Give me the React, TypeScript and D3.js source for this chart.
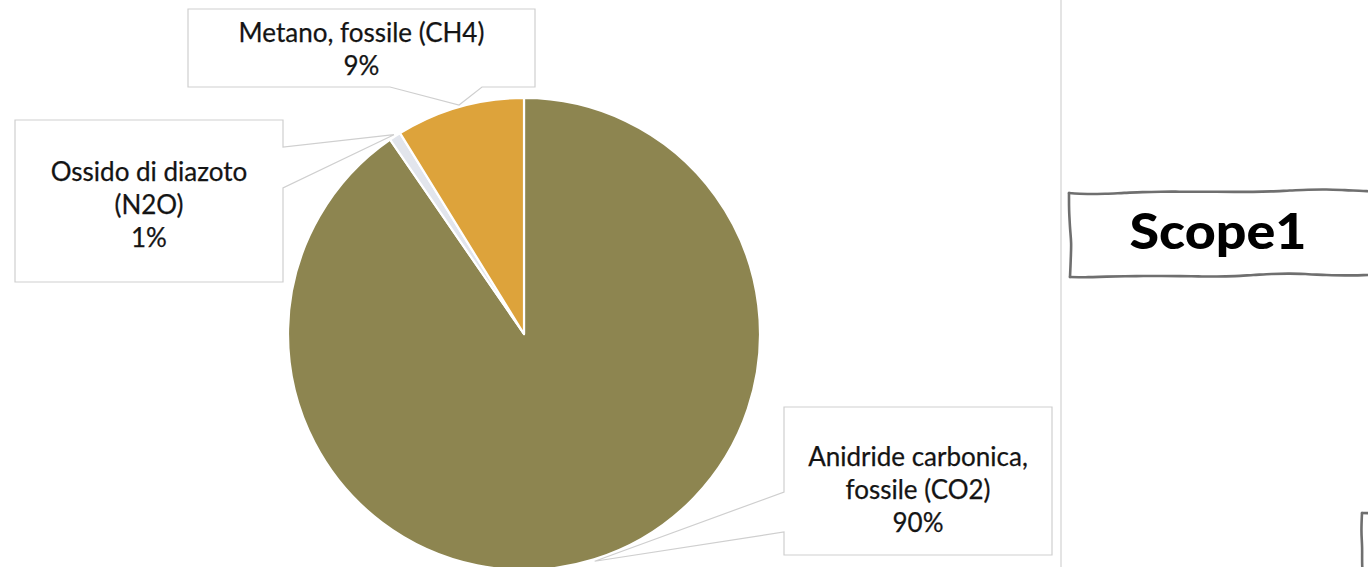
import React from 'react';
import * as d3 from 'd3';

// ---- data ----
const categories = ['CO2', 'N2O', 'CH4'];
const values = [90.4, 0.8, 8.8];
const labelLines = [
  ['Anidride carbonica,', 'fossile (CO2)'],
  ['Ossido di diazoto', '(N2O)'],
  ['Metano, fossile (CH4)'],
];
const sliceColors = ['#8D8550', '#E2E5EC', '#DDA33B'];
const titleText = 'Scope1';

// ---- layout (not data) ----
const W = 1368;
const H = 567;
const CX = 524;
const CY = 334;
const R = 236;
const callouts = [
  { x: 784, y: 407, w: 268, h: 148, side: 'left', g1: 492, g2: 532, ty: 489 },
  { x: 15, y: 120, w: 268, h: 162, side: 'right', g1: 147, g2: 188, ty: 204 },
  { x: 188, y: 9, w: 347, h: 78, side: 'bottom', g1: 390, g2: 482, ty: 49 },
];
const FONT = 'Lato, "Open Sans", sans-serif';
const LINE_H = 33;
const FS = 26;

function calloutPath(c: any, ax: number, ay: number) {
  const { x, y, w, h, g1, g2 } = c;
  if (c.side === 'bottom')
    return `M${x},${y}L${x + w},${y}L${x + w},${y + h}L${g2},${y + h}L${ax},${ay}L${g1},${y + h}L${x},${y + h}Z`;
  if (c.side === 'right')
    return `M${x},${y}L${x + w},${y}L${x + w},${g1}L${ax},${ay}L${x + w},${g2}L${x + w},${y + h}L${x},${y + h}Z`;
  return `M${x},${y}L${x + w},${y}L${x + w},${y + h}L${x},${y + h}L${x},${g2}L${ax},${ay}L${x},${g1}Z`;
}

function wobblyPoints(x1: number, y1: number, x2: number, y2: number, amp: number, phase: number) {
  const len = Math.hypot(x2 - x1, y2 - y1);
  const n = Math.max(2, Math.round(len / 18));
  const nx = -(y2 - y1) / len;
  const ny = (x2 - x1) / len;
  const pts: [number, number][] = [];
  for (let i = 0; i <= n; i++) {
    const t = i / n;
    const off = (i === 0 || i === n) ? 0 : amp * Math.sin(t * len / 23 + phase) * (0.6 + 0.4 * Math.cos(t * 7 + phase));
    pts.push([x1 + (x2 - x1) * t + nx * off, y1 + (y2 - y1) * t + ny * off]);
  }
  return pts;
}

const lineGen = d3.line().curve(d3.curveCatmullRom.alpha(0.5));

export default function App() {
  const pie = d3.pie<number>().sort(null).value((d) => d).startAngle(0).endAngle(2 * Math.PI);
  const arcs = pie(values);
  const arc = d3.arc<d3.PieArcDatum<number>>().innerRadius(0).outerRadius(R);
  const anchorArc = d3.arc<d3.PieArcDatum<number>>().innerRadius(R + 2).outerRadius(R + 2);
  const pct = (v: number) => d3.format('.0f')(v) + '%';

  // Scope box (hand drawn)
  const sx1 = 1069, sy1 = 193, sx2 = 1400, sy2 = 277;
  const scopeEdges = [
    wobblyPoints(sx1, sy1, sx2, sy1 - 3, 1.4, 0.3),
    wobblyPoints(sx1 + 1, sy2, sx2, sy2 - 3, 1.4, 1.7),
    wobblyPoints(sx1, sy1, sx1 + 1, sy2, 1.6, 2.2),
  ];
  const bx = 1362, by = 513;
  const cornerEdges = [
    wobblyPoints(bx, by, 1400, by - 1, 1.2, 0.9),
    wobblyPoints(bx, by, bx + 1, 600, 1.6, 0.4),
  ];

  return (
    <div style={{ position: 'fixed', left: 0, top: 0, width: W, height: H, background: '#fff' }}>
      <svg width={W} height={H} viewBox={`0 0 ${W} ${H}`} style={{ display: 'block' }}>
        <rect x={0} y={0} width={W} height={H} fill="#fff" />
        <line x1={1061} y1={0} x2={1061} y2={H} stroke="#e4e4e4" strokeWidth={2} />
        <g transform={`translate(${CX},${CY})`}>
          {arcs.map((a, i) => (
            <path key={categories[i]} d={arc(a) as string} fill={sliceColors[i]} stroke="#fff" strokeWidth={2.2} strokeLinejoin="round" />
          ))}
        </g>
        {arcs.map((a, i) => {
          const c = callouts[i];
          const [ax, ay] = anchorArc.centroid(a);
          const lines = [...labelLines[i], pct(values[i])];
          const top = c.ty - ((lines.length - 1) * LINE_H) / 2 + 9.5;
          return (
            <g key={'c' + i}>
              <path d={calloutPath(c, ax + CX, ay + CY)} fill="#fff" stroke="#cfcfcf" strokeWidth={1.2} />
              <text x={c.x + c.w / 2} textAnchor="middle" fontFamily={FONT} fontSize={FS} fill="#141414" stroke="#141414" strokeWidth={0.25}>
                {lines.map((l, j) => (
                  <tspan key={j} x={c.x + c.w / 2} y={top + j * LINE_H}>{l}</tspan>
                ))}
              </text>
            </g>
          );
        })}
        {scopeEdges.map((pts, i) => (
          <path key={'s' + i} d={lineGen(pts) as string} fill="none" stroke="#6f6f6f" strokeWidth={2.6} strokeLinecap="round" />
        ))}
        <text x={1218} y={249} textAnchor="middle" fontFamily={FONT} fontWeight={900} fontSize={50} fill="#000"
          textLength={177} lengthAdjust="spacingAndGlyphs">{titleText}</text>
        {cornerEdges.map((pts, i) => (
          <path key={'b' + i} d={lineGen(pts) as string} fill="none" stroke="#6f6f6f" strokeWidth={2.6} strokeLinecap="round" />
        ))}
      </svg>
    </div>
  );
}
